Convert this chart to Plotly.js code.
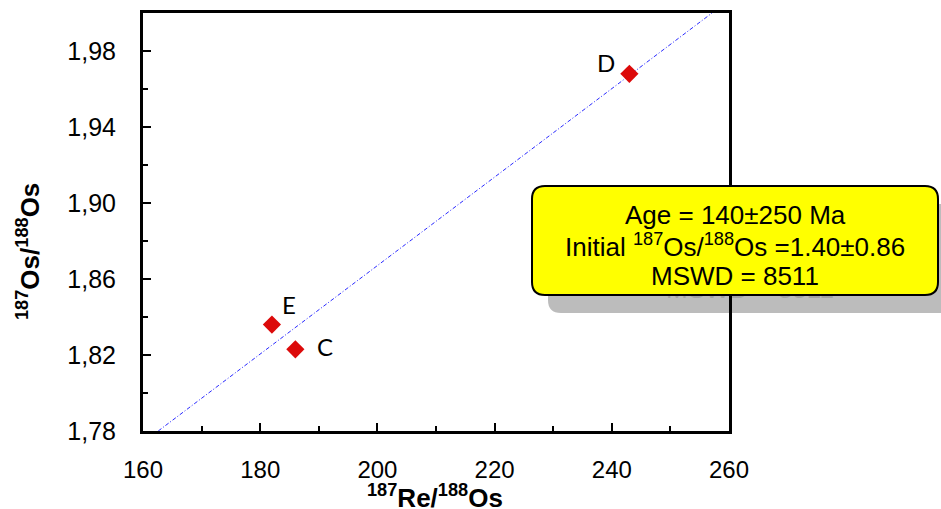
<!DOCTYPE html>
<html>
<head>
<meta charset="utf-8">
<script src="https://cdn.plot.ly/plotly-3.0.1.min.js"></script>
<style>html,body{margin:0;padding:0;background:#fff;}#chart{width:941px;height:509px;}</style>
</head>
<body>
<div id="chart"></div>
<script>
// ---- data ----
const sampleNames = ['C', 'D', 'E'];
const reOs = [186, 243, 182];          // 187Re/188Os
const osOs = [1.823, 1.968, 1.836];    // 187Os/188Os
const fitX = [162.6, 257.1];           // isochron end points
const fitY = [1.78, 2.00];
const xTicks = [160, 180, 200, 220, 240, 260];
const yTicks = [1.78, 1.82, 1.86, 1.90, 1.94, 1.98];
const boxLines = ['Age = 140±250 Ma', 'Initial <sup>187</sup>Os/<sup>188</sup>Os =1.40±0.86', 'MSWD = 8511'];

// ---- layout geometry (pixels) ----
const W = 941, H = 509;
const mL = 143, mR = 212, mT = 13, mB = 78;
const pw = W - mL - mR, ph = H - mT - mB;
const xRange = [160, 260], yRange = [1.78, 2.00];
const px = x => (x - mL) / pw;
const py = y => (H - mB - y) / ph;
const dx = x => xRange[0] + (x - mL) / pw * (xRange[1] - xRange[0]);
const dy = y => yRange[0] + (H - mB - y) / ph * (yRange[1] - yRange[0]);

function roundRect(x0, y0, x1, y1, r) {
  const L = px(x0), R = px(x1), T = py(y0), B = py(y1);
  const rx = r / pw, ry = r / ph;
  return `M ${L+rx},${T} L ${R-rx},${T} Q ${R},${T} ${R},${T-ry} L ${R},${B+ry} Q ${R},${B} ${R-rx},${B} ` +
         `L ${L+rx},${B} Q ${L},${B} ${L},${B+ry} L ${L},${T-ry} Q ${L},${T} ${L+rx},${T} Z`;
}

const box = {x0: 532, y0: 186, x1: 938, y1: 295};
const sh = {dx: 16, dy: 18};
const lineY = [215, 245.5, 276];
const boxCx = (box.x0 + box.x1) / 2;
const FONT = 'Liberation Sans, Arial, sans-serif';

const traces = [
  {
    x: fitX, y: fitY, mode: 'lines', type: 'scatter',
    line: {color: '#2a2aff', width: 1, dash: '4px,2px,1px,2px'},
    hoverinfo: 'skip', showlegend: false
  },
  {
    x: reOs, y: osOs, mode: 'markers', type: 'scatter',
    marker: {symbol: 'diamond', size: 14, color: '#dc0a0a'},
    text: sampleNames, showlegend: false
  },
  {
    // shadow of last box line (mostly hidden under the box)
    x: [dx(boxCx + 16 - 85)], y: [dy(lineY[2] + 15)],
    mode: 'text', type: 'scatter', text: [boxLines[2]], textposition: 'middle right',
    textfont: {family: FONT, size: 26, color: '#a2a2a2'},
    cliponaxis: false, hoverinfo: 'skip', showlegend: false
  }
];

const labelShift = {C: [30, 3], D: [-23, 11], E: [17, 20]};
const annotations = sampleNames.map((n, i) => ({
  x: reOs[i], y: osOs[i], text: n, showarrow: false,
  xshift: labelShift[n][0], yshift: labelShift[n][1],
  font: {family: 'Lato, Carlito, sans-serif', size: 24, color: '#000'}
}));
boxLines.forEach((t, i) => annotations.push({
  xref: 'paper', yref: 'paper', x: px(boxCx), y: py(lineY[i]),
  xanchor: 'center', yanchor: 'middle', text: t, showarrow: false,
  font: {family: FONT, size: 26, color: '#000'}
}));
annotations.push({
  xref: 'paper', yref: 'paper', x: px(28), y: py(252), textangle: -90,
  xanchor: 'center', yanchor: 'middle', showarrow: false,
  text: '<b><sup>187</sup>Os/<sup>188</sup>Os</b>',
  font: {family: FONT, size: 26, color: '#000'}
});
annotations.push({
  xref: 'paper', yref: 'paper', x: px(435), y: py(496),
  xanchor: 'center', yanchor: 'middle', showarrow: false,
  text: '<b><sup>187</sup>Re/<sup>188</sup>Os</b>',
  font: {family: FONT, size: 26, color: '#000'}
});

const layout = {
  width: W, height: H,
  margin: {l: mL, r: mR, t: mT, b: mB, pad: 0},
  paper_bgcolor: '#fff', plot_bgcolor: 'rgba(0,0,0,0)',
  separators: ', ',
  showlegend: false,
  xaxis: {
    range: xRange, tickvals: xTicks, ticktext: xTicks.map(String),
    ticks: 'inside', ticklen: 8, tickwidth: 2, tickcolor: '#000',
    minor: {dtick: 10, tick0: 160, ticks: 'inside', ticklen: 5, tickwidth: 2, tickcolor: '#000', showgrid: false},
    showline: true, linewidth: 3, linecolor: '#000', mirror: true,
    showgrid: false, zeroline: false, ticklabelstandoff: 15,
    tickfont: {family: FONT, size: 24, color: '#000'}
  },
  yaxis: {
    range: yRange, tickvals: yTicks, tickformat: '.2f',
    ticks: 'inside', ticklen: 8, tickwidth: 2, tickcolor: '#000',
    minor: {dtick: 0.02, tick0: 1.78, ticks: 'inside', ticklen: 5, tickwidth: 2, tickcolor: '#000', showgrid: false},
    showline: true, linewidth: 3, linecolor: '#000', mirror: true,
    showgrid: false, zeroline: false, ticklabelstandoff: 19,
    tickfont: {family: FONT, size: 25, color: '#000'}
  },
  shapes: [
    {type: 'path', xref: 'paper', yref: 'paper', layer: 'below',
     path: roundRect(box.x0 + sh.dx, box.y0 + sh.dy, box.x1 + sh.dx, box.y1 + sh.dy, 13),
     fillcolor: '#bcbcbc', line: {width: 0}},
    {type: 'path', xref: 'paper', yref: 'paper', layer: 'above',
     path: roundRect(box.x0, box.y0, box.x1, box.y1, 13),
     fillcolor: '#ffff00', line: {color: '#000', width: 2}}
  ],
  annotations: annotations
};

Plotly.newPlot('chart', traces, layout, {staticPlot: true, displayModeBar: false});
</script>
</body>
</html>
